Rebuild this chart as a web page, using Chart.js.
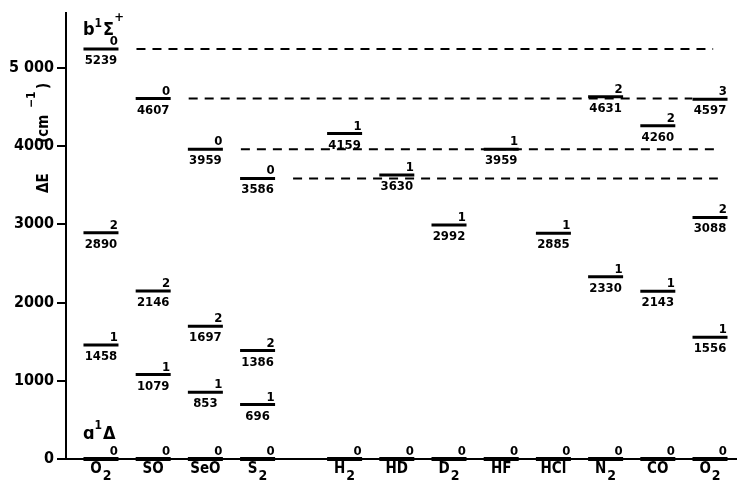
<!DOCTYPE html>
<html>
<head>
<meta charset="utf-8">
<script src="https://cdn.jsdelivr.net/npm/chart.js@4/dist/chart.umd.min.js"></script>
<style>
  html, body { margin: 0; padding: 0; background: #fff; }
  #wrap { width: 737px; height: 489px; }
</style>
</head>
<body>
<div id="wrap"><canvas id="c" width="737" height="489"></canvas></div>
<script>
// Molecules along the horizontal axis (trailing digit is drawn as a subscript)
const categories = ['O2', 'SO', 'SeO', 'S2', 'H2', 'HD', 'D2', 'HF', 'HCl', 'N2', 'CO', 'O2'];

// Vibrational level energies in cm^-1 (null = level not shown)
const v0Energies = [0, 0, 0, 0, 0, 0, 0, 0, 0, 0, 0, 0];
const v1Energies = [1458, 1079, 853, 696, 4159, 3630, 2992, 3959, 2885, 2330, 2143, 1556];
const v2Energies = [2890, 2146, 1697, 1386, null, null, null, null, null, 4631, 4260, 3088];
const v3Energies = [null, null, null, null, null, null, null, null, null, null, null, 4597];
// b1Sigma+ (v = 0) of the four singlet-oxygen-like molecules
const bStateEnergies = [5239, 4607, 3959, 3586, null, null, null, null, null, null, null, null];

const yTicks = [0, 1000, 2000, 3000, 4000, 5000];
const yTickLabels = ['0', '1000', '2000', '3000', '4000', '5 000'];

// ---- layout helpers ----
const GAP_AFTER = 3;          // extra space between the two groups
const colPos = i => (i > GAP_AFTER ? i + 0.667 : i);
const LAST = categories.length - 1;
const FONT = '"DejaVu Sans Condensed", "DejaVu Sans", sans-serif';

function levelData(energies, vLabel) {
  const pts = [];
  energies.forEach((e, i) => {
    if (e !== null) pts.push({ x: colPos(i), y: e, v: vLabel });
  });
  return pts;
}

function levelSet(energies, vLabel, width) {
  return {
    type: 'scatter',
    data: levelData(energies, vLabel),
    pointStyle: 'line',
    pointRadius: 17.5,
    pointHoverRadius: 17.5,
    borderColor: '#000',
    backgroundColor: '#000',
    borderWidth: width,
    pointBorderWidth: width,
    clip: false,
    isLevel: true
  };
}

// dashed reference lines from the b-state levels across to the right
const dashEndOffset = [0.06, -0.34, 0.15, 0.15];
const dashSets = [];
bStateEnergies.forEach((e, i) => {
  if (e === null) return;
  dashSets.push({
    type: 'line',
    data: [{ x: colPos(i) + 0.68, y: e }, { x: colPos(LAST) + dashEndOffset[i], y: e }],
    borderColor: '#000',
    borderWidth: 2,
    borderDash: [9, 7],
    pointRadius: 0,
    showLine: true,
    clip: false
  });
});

const datasets = [
  ...dashSets,
  levelSet(v0Energies, '0', 4),
  levelSet(v1Energies, '1', 3),
  levelSet(v2Energies, '2', 3),
  levelSet(v3Energies, '3', 3),
  levelSet(bStateEnergies, '0', 3)
];

// text with a trailing-digit subscript
function drawSubText(ctx, text, cx, baseY, size, subSize, subDrop) {
  const m = text.match(/^(.*?)(\d*)$/);
  const base = m[1], sub = m[2];
  ctx.font = 'bold ' + size + 'px ' + FONT;
  const wb = ctx.measureText(base).width;
  ctx.font = 'bold ' + subSize + 'px ' + FONT;
  const ws = sub ? ctx.measureText(sub).width + 1 : 0;
  let x = cx - (wb + ws) / 2;
  ctx.textAlign = 'left';
  ctx.textBaseline = 'alphabetic';
  ctx.font = 'bold ' + size + 'px ' + FONT;
  ctx.fillText(base, x, baseY);
  if (sub) {
    ctx.font = 'bold ' + subSize + 'px ' + FONT;
    ctx.fillText(sub, x + wb + 1, baseY + subDrop);
  }
}

const annotate = {
  id: 'annotate',
  afterDatasetsDraw(chart) {
    const ctx = chart.ctx;
    const xs = chart.scales.x;
    ctx.save();
    ctx.fillStyle = '#000';

    // level labels: quantum number above, energy below
    chart.data.datasets.forEach((ds, di) => {
      if (!ds.isLevel) return;
      const meta = chart.getDatasetMeta(di);
      meta.data.forEach((el, k) => {
        const d = ds.data[k];
        const px = el.x, py = el.y;
        ctx.font = 'bold 13px ' + FONT;
        ctx.textBaseline = 'alphabetic';
        ctx.textAlign = 'right';
        ctx.fillText(d.v, px + 17, py - 4);
        if (d.y > 0) {
          ctx.textAlign = 'center';
          ctx.fillText(String(d.y), px, py + 15);
        }
      });
    });

    // molecule names under the axis
    categories.forEach((name, i) => {
      drawSubText(ctx, name, xs.getPixelForValue(colPos(i)), 473, 15, 14, 7);
    });

    // state labels in the first column
    const c0 = xs.getPixelForValue(colPos(0)) - 18;
    ctx.textAlign = 'left';
    ctx.textBaseline = 'alphabetic';
    let x = c0;
    ctx.font = 'bold 18px ' + FONT;
    ctx.fillText('b', x, 35); x += ctx.measureText('b').width;
    ctx.font = 'bold 12px ' + FONT;
    ctx.fillText('1', x, 27); x += ctx.measureText('1').width + 1;
    ctx.font = 'bold 18px ' + FONT;
    ctx.fillText('\u03A3', x, 35); x += ctx.measureText('\u03A3').width;
    ctx.font = 'bold 13px ' + FONT;
    ctx.fillText('+', x, 21);

    x = c0;
    ctx.font = 'bold 18px ' + FONT;
    ctx.fillText('\u0251', x, 439); x += ctx.measureText('\u0251').width;
    ctx.font = 'bold 12px ' + FONT;
    ctx.fillText('1', x, 429); x += ctx.measureText('1').width + 1;
    ctx.font = 'bold 18px ' + FONT;
    ctx.fillText('\u0394', x, 439);

    // vertical axis title, split around the 4000 tick label
    ctx.translate(48, 0);
    ctx.rotate(-Math.PI / 2);
    ctx.textAlign = 'left';
    ctx.font = 'bold 15px ' + FONT;
    ctx.fillText('\u0394E', -193, 0);
    ctx.fillText('(cm', -143, 0);
    ctx.font = 'bold 12px ' + FONT;
    ctx.fillText('\u22121', -108, -13);
    ctx.font = 'bold 15px ' + FONT;
    ctx.fillText(')', -89, 0);
    ctx.restore();
  }
};

new Chart(document.getElementById('c'), {
  type: 'scatter',
  data: { datasets },
  options: {
    responsive: false,
    animation: false,
    events: [],
    layout: { autoPadding: false, padding: { top: 13, right: 0, bottom: 0, left: 0 } },
    plugins: { legend: { display: false }, tooltip: { enabled: false } },
    scales: {
      x: {
        type: 'linear',
        min: -0.67,
        max: 12.184,
        grid: { display: false },
        border: { display: true, color: '#000', width: 2 },
        ticks: { display: false },
        afterFit(s) { s.height = 30; }
      },
      y: {
        type: 'linear',
        min: 0,
        max: 5700,
        afterBuildTicks(s) { s.ticks = yTicks.map(v => ({ value: v })); },
        ticks: {
          color: '#000',
          padding: 3,
          font: { family: FONT, size: 16, weight: 'bold' },
          callback: v => yTickLabels[yTicks.indexOf(v)]
        },
        grid: { drawOnChartArea: false, tickLength: 9, color: '#000', lineWidth: 2 },
        border: { display: true, color: '#000', width: 2 },
        afterFit(s) { s.width = 66; }
      }
    }
  },
  plugins: [annotate]
});
</script>
</body>
</html>
